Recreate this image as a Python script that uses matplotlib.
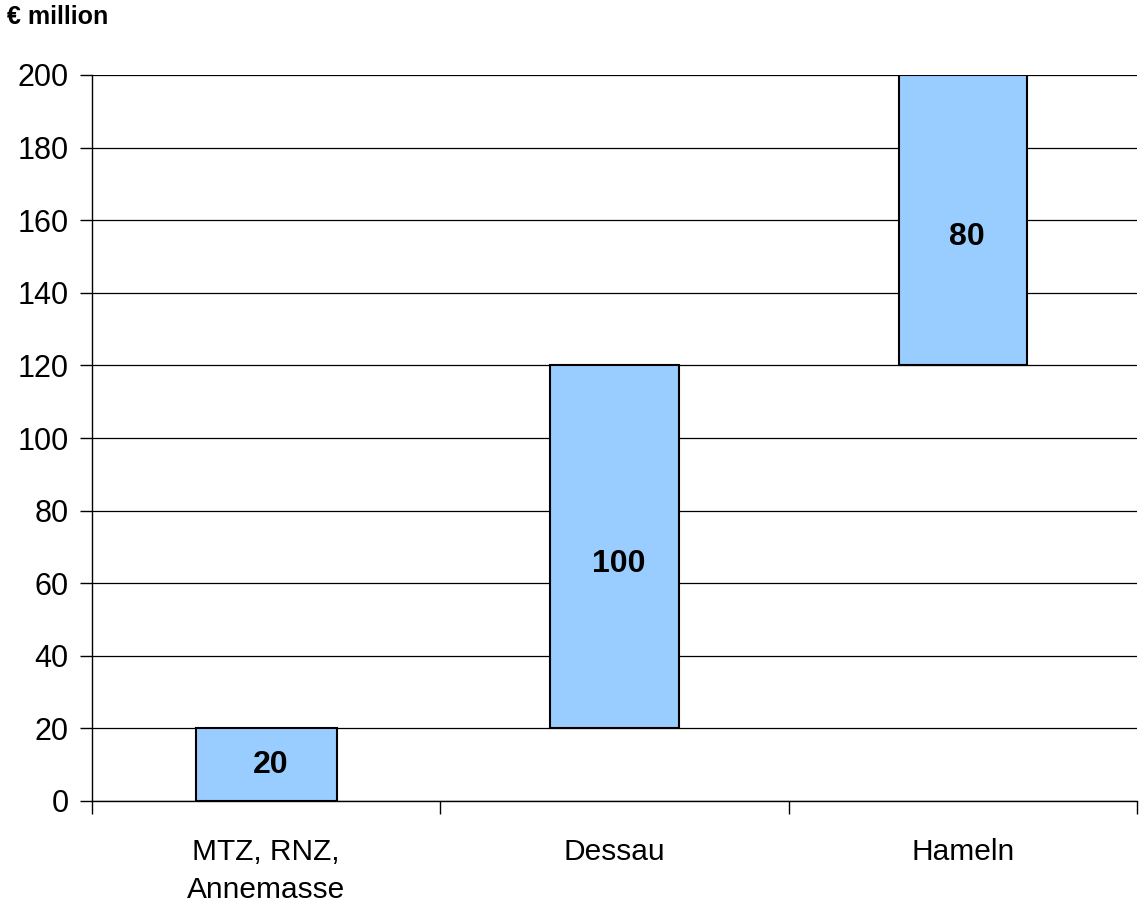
import matplotlib.pyplot as plt
import numpy as np

plt.rcParams['font.family'] = ['Liberation Sans', 'DejaVu Sans']

categories = ['MTZ, RNZ,\nAnnemasse', 'Dessau', 'Hameln']
values = [20, 100, 80]
bottoms = np.concatenate([[0], np.cumsum(values)[:-1]])

fig = plt.figure(figsize=(11.44, 9.14), dpi=100)
ax = fig.add_axes([92/1144, 1-801/914, (1137-92)/1144, (801-75)/914])

x = np.arange(len(categories))
widths = [0.405, 0.368, 0.368]
bars = ax.bar(x, values, widths, bottom=bottoms, color='#99ccff',
              edgecolor='black', linewidth=1.5, zorder=3)
# labels in the original sit a little below the bar middle for the upper bars
label_shift = [0, -12, -12]
for xi, b, v, dy in zip(x, bottoms, values, label_shift):
    ax.annotate(str(v), (xi, b + v / 2), xytext=(3, dy), textcoords='offset points',
                ha='center', va='center', fontsize=23, fontweight='bold', zorder=4)

ax.set_xlim(-0.5, len(categories) - 0.5)
ax.set_ylim(0, 200)
ax.set_yticks(np.arange(0, 201, 20))
ax.yaxis.grid(True, color='black', linewidth=0.9, zorder=0)
ax.tick_params(axis='y', labelsize=22, length=9, width=1, pad=8)

ax.set_xticks(np.arange(-0.5, len(categories)), labels=[])
ax.set_xticks(x, labels=categories, minor=True)
ax.tick_params(axis='x', which='major', length=9, width=1)
ax.tick_params(axis='x', which='minor', length=0, labelsize=21.5, pad=27)
for lab in ax.get_xticklabels(minor=True):
    lab.set_linespacing(1.45)

for s in ['top', 'right']:
    ax.spines[s].set_visible(False)
ax.spines['left'].set_linewidth(1)
ax.spines['bottom'].set_linewidth(1)

fig.text(7/1144, 1-17/914, '€ million', fontsize=18, fontweight='bold',
         ha='left', va='center')

fig.savefig('out.png', dpi=100)
